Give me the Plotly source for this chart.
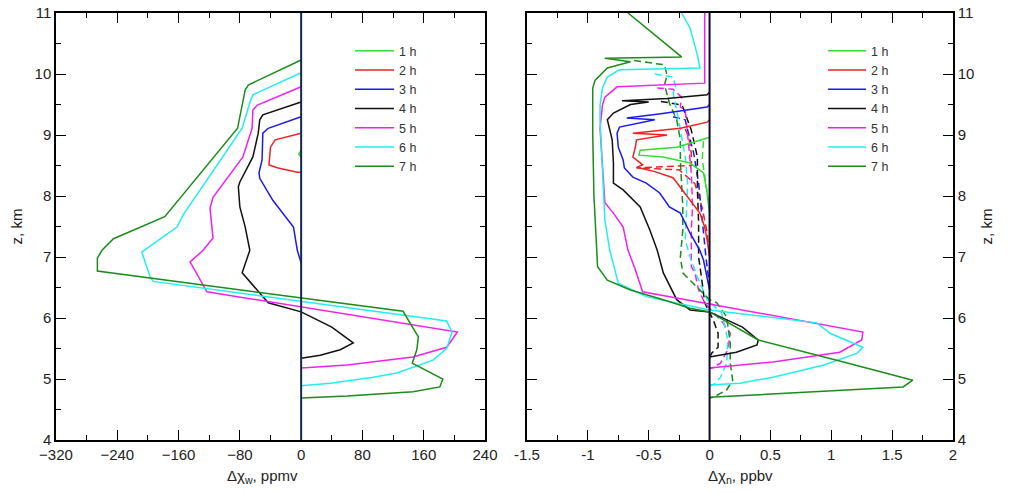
import plotly.graph_objects as go

# ---------------- data ----------------
hours = ["1 h", "2 h", "3 h", "4 h", "5 h", "6 h", "7 h"]
colors = ["#33dd33", "#ee2222", "#1a1aee", "#111111", "#ee22ee", "#22eeee", "#1a8c1a"]

# Left panel: delta chi_w (ppmv) vs z (km)
w1_x = [0, -3, 0]
w1_z = [8.75, 8.69, 8.63]
w2_x = [0, -34, -40, -42, -30, -5, 0]
w2_z = [9.03, 8.92, 8.80, 8.51, 8.46, 8.39, 8.39]
w3_x = [0, -43, -50, -51, -55, -54, -37, -10, -5, 0]
w3_z = [9.30, 9.11, 9.03, 8.59, 8.38, 8.29, 7.93, 7.49, 7.11, 6.90]
w4_x = [0, -50, -54, -56, -63, -80, -82, -80, -73, -67, -77, -43, 0, 40, 68, 51, 25, 0]
w4_z = [9.54, 9.33, 9.25, 9.03, 8.64, 8.23, 8.15, 7.82, 7.49, 7.11, 6.74, 6.25, 6.10, 5.85, 5.59, 5.48, 5.39, 5.34]
w5_x = [0, -57, -63, -64, -76, -115, -119, -115, -115, -128, -145, -123, 204, 190, 146, 60, 0]
w5_z = [9.79, 9.49, 9.41, 9.11, 8.64, 7.98, 7.80, 7.39, 7.31, 7.11, 6.92, 6.43, 5.77, 5.52, 5.36, 5.23, 5.18]
w6_x = [0, -63, -66, -77, -154, -162, -208, -197, -193, 190, 197, 190, 172, 125, 94, 38, 0]
w6_z = [10.02, 9.66, 9.57, 9.11, 7.69, 7.49, 7.08, 6.67, 6.60, 5.95, 5.77, 5.50, 5.31, 5.10, 5.03, 4.93, 4.89]
w7_x = [0, -69, -73, -83, -178, -245, -260, -266, -266, 133, 153, 151, 145, 185, 181, 146, 60, 0]
w7_z = [10.23, 9.82, 9.74, 9.11, 7.66, 7.30, 7.11, 6.98, 6.77, 6.11, 5.69, 5.48, 5.26, 5.00, 4.87, 4.79, 4.72, 4.69]

# Right panel: delta chi_n (ppbv) vs z (km), solid
n1_x = [0, -0.02, -0.27, -0.57, -0.58, -0.38, -0.16, -0.05, -0.02, 0]
n1_z = [8.97, 8.95, 8.80, 8.75, 8.67, 8.64, 8.54, 8.38, 8.05, 7.72]
n2_x = [0, -0.02, -0.24, -0.63, -0.35, -0.60, -0.61, -0.63, -0.55, -0.60, -0.45, -0.30, -0.16, -0.08, -0.04, -0.02, 0]
n2_z = [9.25, 9.21, 9.11, 9.03, 9.00, 8.92, 8.80, 8.64, 8.51, 8.47, 8.40, 8.30, 7.93, 7.72, 7.49, 7.28, 7.00]
n3_x = [0, -0.02, -0.40, -0.68, -0.45, -0.74, -0.76, -0.75, -0.71, -0.70, -0.63, -0.52, -0.41, -0.33, -0.24, -0.16, -0.08, -0.05, 0]
n3_z = [9.50, 9.46, 9.35, 9.28, 9.25, 9.13, 9.03, 8.80, 8.59, 8.46, 8.31, 8.21, 8.05, 7.82, 7.72, 7.39, 7.11, 6.95, 6.46]
n4_x = [0, -0.02, -0.35, -0.72, -0.50, -0.65, -0.79, -0.84, -0.80, -0.79, -0.79, -0.71, -0.57, -0.49, -0.43, -0.38, -0.27, -0.16, 0, 0.27, 0.40, 0.39, 0.22, 0]
n4_z = [9.70, 9.66, 9.60, 9.56, 9.54, 9.50, 9.36, 9.25, 8.92, 8.54, 8.21, 8.10, 7.82, 7.44, 7.11, 6.74, 6.30, 6.13, 6.10, 5.85, 5.64, 5.56, 5.44, 5.36]
n5_x = [-0.04, -0.04, -0.76, -0.86, -0.88, -0.90, -0.88, -0.86, -0.79, -0.71, -0.67, -0.61, -0.55, 0.84, 1.26, 1.25, 1.07, 0.52, 0.11, 0]
n5_z = [11.0, 9.85, 9.79, 9.62, 9.49, 9.11, 8.50, 7.89, 7.72, 7.49, 7.11, 6.79, 6.43, 5.93, 5.77, 5.64, 5.44, 5.28, 5.20, 5.18]
n6_x = [-0.23, -0.16, -0.10, -0.08, -0.74, -0.84, -0.88, -0.90, -0.90, -0.88, -0.86, -0.82, -0.75, -0.52, 0, 0.88, 0.99, 1.26, 1.21, 0.94, 0.52, 0.25, 0]
n6_z = [11.0, 10.75, 10.31, 10.10, 10.07, 9.95, 9.77, 9.49, 9.25, 8.50, 7.60, 7.11, 6.57, 6.35, 6.13, 5.92, 5.75, 5.52, 5.42, 5.23, 5.03, 4.93, 4.90]
n7_x = [-0.67, -0.23, -0.86, -0.65, -0.84, -0.94, -0.96, -0.96, -0.95, -0.93, -0.92, -0.84, -0.65, -0.38, -0.16, 0, 0.40, 1.10, 1.67, 1.59, 0.66, 0]
n7_z = [11.0, 10.28, 10.26, 10.20, 10.10, 9.90, 9.77, 9.00, 8.00, 7.28, 6.84, 6.62, 6.46, 6.30, 6.16, 6.10, 5.64, 5.28, 4.98, 4.87, 4.77, 4.70]

# Right panel, dashed
d1_x = [-0.05, -0.06, -0.03, 0]
d1_z = [8.90, 8.60, 8.20, 7.80]
d2_x = [-0.20, -0.17, -0.15, -0.15, -0.60, -0.25, -0.12, -0.06, -0.02, 0]
d2_z = [9.10, 8.95, 8.70, 8.50, 8.46, 8.43, 8.20, 7.80, 7.40, 7.00]
d3_x = [-0.30, -0.20, -0.18, -0.13, -0.09, -0.07, -0.05, -0.03, 0]
d3_z = [9.30, 9.25, 9.08, 8.70, 8.21, 7.80, 7.40, 7.00, 6.50]
d4_x = [-0.40, -0.25, -0.22, -0.15, -0.10, -0.10, -0.09, -0.09, -0.06, -0.04, 0.03, 0.07, 0.07, 0.02, 0]
d4_z = [9.55, 9.50, 9.46, 9.08, 8.64, 8.10, 7.56, 7.00, 6.57, 6.25, 5.97, 5.75, 5.52, 5.43, 5.36]
d5_x = [-0.43, -0.30, -0.23, -0.24, -0.20, -0.15, -0.14, -0.15, -0.15, -0.12, -0.09, -0.04, 0.11, 0.17, 0.15, 0.09, 0.02, 0]
d5_z = [9.77, 9.75, 9.62, 9.46, 9.41, 8.38, 7.82, 7.44, 6.84, 6.74, 6.46, 6.25, 5.92, 5.75, 5.48, 5.26, 5.18, 5.17]
d6_x = [-0.45, -0.30, -0.28, -0.30, -0.26, -0.20, -0.18, -0.19, -0.20, -0.16, -0.10, -0.02, 0.10, 0.15, 0.14, 0.09, 0.03, 0]
d6_z = [10.0, 9.95, 9.80, 9.69, 9.30, 8.64, 8.21, 7.77, 7.28, 7.00, 6.67, 6.30, 6.08, 5.64, 5.26, 5.03, 4.90, 4.89]
d7_x = [-0.62, -0.37, -0.35, -0.37, -0.34, -0.33, -0.27, -0.24, -0.24, -0.23, -0.22, -0.22, -0.24, -0.22, -0.08, 0, 0.06, 0.14, 0.17, 0.17, 0.19, 0.14, 0.03, 0]
d7_z = [10.22, 10.15, 9.98, 9.82, 9.60, 9.52, 9.25, 8.92, 8.59, 8.21, 7.82, 7.44, 7.00, 6.74, 6.46, 6.30, 6.25, 6.02, 5.59, 5.26, 4.98, 4.82, 4.70, 4.69]

left_series = [(w1_x, w1_z), (w2_x, w2_z), (w3_x, w3_z), (w4_x, w4_z), (w5_x, w5_z), (w6_x, w6_z), (w7_x, w7_z)]
right_solid = [(n1_x, n1_z), (n2_x, n2_z), (n3_x, n3_z), (n4_x, n4_z), (n5_x, n5_z), (n6_x, n6_z), (n7_x, n7_z)]
right_dash = [(d1_x, d1_z), (d2_x, d2_z), (d3_x, d3_z), (d4_x, d4_z), (d5_x, d5_z), (d6_x, d6_z), (d7_x, d7_z)]

left_xticks = [-320, -240, -160, -80, 0, 80, 160, 240]
right_xticks = [-1.5, -1, -0.5, 0, 0.5, 1, 1.5, 2]
right_xlabels = ["-1.5", "-1", "-0.5", "0", "0.5", "1", "1.5", "2"]
z_ticks = [4, 5, 6, 7, 8, 9, 10, 11]

# ---------------- figure ----------------
FONT = "Liberation Sans, Arial, sans-serif"
TXT = "#222"
fig = go.Figure()

for (xs, zs), c, h in zip(left_series, colors, hours):
    fig.add_trace(go.Scatter(x=xs, y=zs, mode="lines", name=h, legend="legend",
                             line=dict(color=c, width=1.5), xaxis="x", yaxis="y"))
for (xs, zs), c in zip(right_dash, colors):
    fig.add_trace(go.Scatter(x=xs, y=zs, mode="lines", showlegend=False,
                             line=dict(color=c, width=1.5, dash="7px,4px"), xaxis="x2", yaxis="y2"))
for (xs, zs), c, h in zip(right_solid, colors, hours):
    fig.add_trace(go.Scatter(x=xs, y=zs, mode="lines", name=h, legend="legend2",
                             line=dict(color=c, width=1.5), xaxis="x2", yaxis="y2"))

# invisible traces so that the overlay (tick-only) axes on top / right get drawn
for xa, ya in [("x3", "y"), ("x4", "y2"), ("x", "y3"), ("x2", "y4")]:
    fig.add_trace(go.Scatter(x=[None], y=[None], mode="lines", showlegend=False,
                             hoverinfo="skip", xaxis=xa, yaxis=ya))

W, H = 1011, 493
ytop, ybot = 1 - 13 / H, 1 - 440 / H
LDOM = [56 / W, 485 / W]
RDOM = [527 / W, 953 / W]

tickstyle = dict(ticks="inside", ticklen=10, tickwidth=1.2, tickcolor="black",
                 showgrid=False, zeroline=False, automargin=False)
axis_common = dict(showline=True, linecolor="black", linewidth=1.5, mirror=True,
                   tickfont=dict(family=FONT, size=15, color=TXT), **tickstyle)
overlay_common = dict(showline=False, showticklabels=False, **tickstyle)


def minor(d):
    return dict(dtick=d, tick0=0, ticks="inside", ticklen=5, tickcolor="black", tickwidth=1.2)


title_font = dict(family=FONT, size=15, color=TXT)
legend_font = dict(family=FONT, size=12.5, color="#333")

fig.update_layout(
    width=W, height=H, margin=dict(l=0, r=0, t=0, b=0),
    paper_bgcolor="white", plot_bgcolor="white",
    font=dict(family=FONT, size=15, color=TXT),
    xaxis=dict(domain=LDOM, range=[-320, 240], anchor="y", tickvals=left_xticks, minor=minor(40),
               **axis_common),
    yaxis=dict(domain=[ybot, ytop], range=[4, 11], anchor="x", tickvals=z_ticks, minor=minor(0.5),
               title=dict(text="z, km", font=title_font, standoff=8),
               **axis_common),
    xaxis2=dict(domain=RDOM, range=[-1.5, 2], anchor="y2",
                tickvals=right_xticks, ticktext=right_xlabels, minor=minor(0.25),
                **axis_common),
    yaxis2=dict(domain=[ybot, ytop], range=[4, 11], anchor="x2", side="right", tickvals=z_ticks,
                minor=minor(0.5),
                title=dict(text="z, km", font=title_font, standoff=8),
                **axis_common),
    xaxis3=dict(overlaying="x", side="top", anchor="y", range=[-320, 240], tickvals=left_xticks,
                minor=minor(40), **overlay_common),
    xaxis4=dict(overlaying="x2", side="top", anchor="y2", range=[-1.5, 2], tickvals=right_xticks,
                minor=minor(0.25), **overlay_common),
    yaxis3=dict(overlaying="y", side="right", anchor="x", range=[4, 11], tickvals=z_ticks,
                minor=minor(0.5), **overlay_common),
    yaxis4=dict(overlaying="y2", side="left", anchor="x2", range=[4, 11], tickvals=z_ticks,
                minor=minor(0.5), **overlay_common),
    legend=dict(x=350 / W, y=1 - 36 / H, xanchor="left", yanchor="top",
                bgcolor="rgba(0,0,0,0)", font=legend_font, tracegroupgap=0, itemwidth=39),
    legend2=dict(x=823 / W, y=1 - 36 / H, xanchor="left", yanchor="top",
                 bgcolor="rgba(0,0,0,0)", font=legend_font, tracegroupgap=0, itemwidth=38),
    annotations=[
        dict(text="Δχ<sub>w</sub>, ppmv", xref="paper", yref="paper", x=262 / W, y=1 - 476 / H,
             xanchor="center", yanchor="middle", showarrow=False, font=title_font),
        dict(text="Δχ<sub>n</sub>, ppbv", xref="paper", yref="paper", x=740 / W, y=1 - 476 / H,
             xanchor="center", yanchor="middle", showarrow=False, font=title_font),
    ],
    shapes=[
        dict(type="line", xref="x", yref="y domain", x0=0, x1=0, y0=0, y1=1,
             line=dict(color="#13294b", width=2), layer="above"),
        dict(type="line", xref="x2", yref="y2 domain", x0=0, x1=0, y0=0, y1=1,
             line=dict(color="#0a0a30", width=2), layer="above"),
    ],
)

fig.write_html("out.html", config={"displayModeBar": False},
               post_script="document.body.style.margin='0px';")
